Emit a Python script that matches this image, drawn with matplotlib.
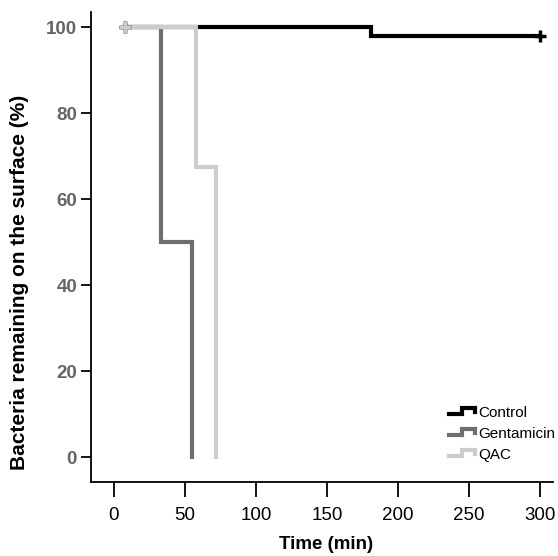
import matplotlib
matplotlib.use("Agg")
import matplotlib.pyplot as plt
from matplotlib.lines import Line2D
from matplotlib.legend_handler import HandlerBase

plt.rcParams['font.family'] = ['Liberation Sans', 'DejaVu Sans']

# survival curves (time in min, % remaining)
control_t = [8, 181, 300]
control_s = [100, 98, 98]
genta_t = [8, 33, 55]
genta_s = [100, 50, 0]
qac_t = [8, 58, 72]
qac_s = [100, 67.5, 0]

labels = ["Control", "Gentamicin", "QAC"]
colors = ["#000000", "#6e6e6e", "#cccccc"]


class StepHandler(HandlerBase):
    # little step-shaped icon like the original legend
    def create_artists(self, legend, orig_handle, xdescent, ydescent,
                       width, height, fontsize, trans):
        x0 = -xdescent
        y0 = -ydescent
        xs = [x0, x0 + 0.45 * width, x0 + 0.45 * width, x0 + 0.9 * width, x0 + 0.9 * width]
        ys = [y0 + 0.25 * height, y0 + 0.25 * height, y0 + 0.85 * height,
              y0 + 0.85 * height, y0 + 0.45 * height]
        ln = Line2D(xs, ys, color=orig_handle.get_color(),
                    lw=orig_handle.get_linewidth(), solid_joinstyle='miter',
                    transform=trans)
        return [ln]


fig = plt.figure(figsize=(5.58, 5.56), dpi=100)
ax = fig.add_axes([0.163, 0.133, 0.828, 0.845])

handles = []
for t, s, c, lab in [(control_t, control_s, colors[0], labels[0]),
                     (genta_t, genta_s, colors[1], labels[1]),
                     (qac_t, qac_s, colors[2], labels[2])]:
    ln, = ax.step(t, s, where='post', color=c, lw=3, solid_joinstyle='miter')
    handles.append(ln)

# censor marks
for t, s, c in [(control_t, control_s, colors[0]),
                (genta_t, genta_s, colors[1]),
                (qac_t, qac_s, colors[2])]:
    ax.plot(t[0], s[0], '+', color=c, ms=8, mew=2.5)
ax.plot(control_t[-1], control_s[-1], '+', color=colors[0], ms=8, mew=2.5)

ax.set_xlim(-16, 309)
ax.set_ylim(-5.8, 103.5)
ax.set_xticks([0, 50, 100, 150, 200, 250, 300])
ax.set_yticks([0, 20, 40, 60, 80, 100])

for sp in ['top', 'right']:
    ax.spines[sp].set_visible(False)
for sp in ['left', 'bottom']:
    ax.spines[sp].set_linewidth(1.3)

ax.tick_params(axis='x', length=11, width=1.3, labelsize=13.5, pad=7)
ax.tick_params(axis='y', length=7, width=1.3, labelsize=13.5, labelcolor='#666666', pad=3)
for lbl in ax.get_yticklabels():
    lbl.set_fontweight('bold')

ax.set_xlabel("Time (min)", fontsize=13.5, fontweight='bold')
ax.set_ylabel("Bacteria remaining on the surface (%)", fontsize=15,
              fontweight='bold')
ax.xaxis.set_label_coords(0.508, -0.115)
ax.yaxis.set_label_coords(-0.135, 0.425)

ax.legend(handles, labels, handler_map={Line2D: StepHandler()},
          loc='lower right', bbox_to_anchor=(1.018, 0.03), frameon=False,
          fontsize=11, handlelength=1.9, handletextpad=0.0,
          labelspacing=0.45, borderaxespad=0)

fig.savefig("out.png", dpi=100)
